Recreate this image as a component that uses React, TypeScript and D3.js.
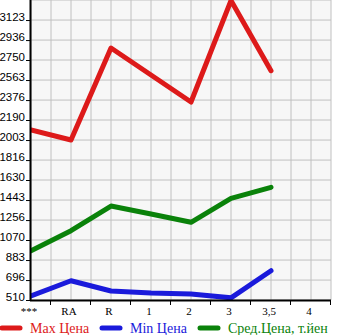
import React from "react";
import * as d3 from "d3";

const categories = ["***", "RA", "R", "1", "2", "3", "3,5", "4"];
const maxPrice = [2097, 2003, 2862, 2610, 2358, 3305, 2650, null];
const minPrice = [547, 690, 594, 575, 566, 530, 783, null];
const avgPrice = [970, 1157, 1387, 1313, 1235, 1459, 1562, null];
const yTicks = [510, 696, 883, 1070, 1256, 1443, 1630, 1816, 2003, 2190, 2376, 2563, 2750, 2936, 3123];
const legendItems = ["Max Цена", "Min Цена", "Сред.Цена, т.йен"];
const colors = ["#dd1a1a", "#1a1adb", "#0a820a"];

export default function App() {
  const W = 345, H = 335;
  const left = 31, right = 331, top = 0, bottom = 300;
  const x = d3.scalePoint<string>().domain(categories).range([left, left + 40 * (categories.length - 1)]);
  const y = d3.scaleLinear().domain([510, 3310]).range([bottom, top]);
  const series = [maxPrice, minPrice, avgPrice];
  const line = d3
    .line<number | null>()
    .defined((d) => d != null)
    .x((_, i) => x(categories[i]) as number)
    .y((d) => y(d as number));

  const vGrid = d3.range(left, right + 1, 20);
  const hGrid = [...yTicks, 3310].map((v) => y(v));
  const xTickMarks = d3.range(left + 20, right + 1, 40);

  return (
    <svg width={W} height={H} style={{ position: "absolute", left: 0, top: 0 }}>
      <defs>
        <clipPath id="plotclip">
          <rect x={left} y={top} width={right - left} height={bottom - top} />
        </clipPath>
      </defs>
      <rect x={left} y={top} width={right - left} height={bottom - top} fill="#f7f7f7" />
      {vGrid.map((gx) => (
        <line key={"v" + gx} x1={gx} x2={gx} y1={top} y2={bottom} stroke="#c0c0c0" strokeWidth={1} />
      ))}
      {hGrid.map((gy, i) => (
        <line key={"h" + i} x1={left} x2={right} y1={gy} y2={gy} stroke="#c0c0c0" strokeWidth={1} />
      ))}
      <g clipPath="url(#plotclip)">
        {series.map((s, i) => (
          <path
            key={i}
            d={line(s) || ""}
            fill="none"
            stroke={colors[i]}
            strokeWidth={5}
            strokeLinejoin="round"
            strokeLinecap="round"
          />
        ))}
      </g>
      <line x1={left - 0.5} x2={left - 0.5} y1={top} y2={bottom + 1} stroke="#000" strokeWidth={2} />
      <line x1={left - 1} x2={right} y1={bottom + 0.5} y2={bottom + 0.5} stroke="#000" strokeWidth={2} />
      {yTicks.map((v) => (
        <g key={"yt" + v}>
          <line x1={left - 5} x2={left} y1={y(v) + 0.5} y2={y(v) + 0.5} stroke="#000" strokeWidth={1} />
          <text
            x={left - 6}
            y={y(v) + 1}
            textAnchor="end"
            fontFamily="Liberation Sans, Arial, sans-serif"
            fontSize={11.5}
            fill="#000"
          >
            {v}
          </text>
        </g>
      ))}
      {xTickMarks.map((tx) => (
        <line key={"xt" + tx} x1={tx - 0.5} x2={tx - 0.5} y1={bottom} y2={bottom + 5} stroke="#000" strokeWidth={1} />
      ))}
      {categories.map((c) => (
        <text
          key={"xl" + c}
          x={(x(c) as number) - 2}
          y={315}
          textAnchor="middle"
          fontFamily="Liberation Serif, Times New Roman, serif"
          fontSize={11}
          fill="#000"
        >
          {c}
        </text>
      ))}
      {legendItems.map((label, i) => {
        const lx = [0, 100, 198][i];
        return (
          <g key={"lg" + i}>
            <line x1={lx + 2} x2={lx + 20} y1={328} y2={328} stroke={colors[i]} strokeWidth={5} strokeLinecap="round" />
            <text
              x={lx + 30}
              y={333}
              fontFamily="Liberation Serif, Times New Roman, serif"
              fontSize={14}
              fill={colors[i]}
            >
              {label}
            </text>
          </g>
        );
      })}
    </svg>
  );
}
